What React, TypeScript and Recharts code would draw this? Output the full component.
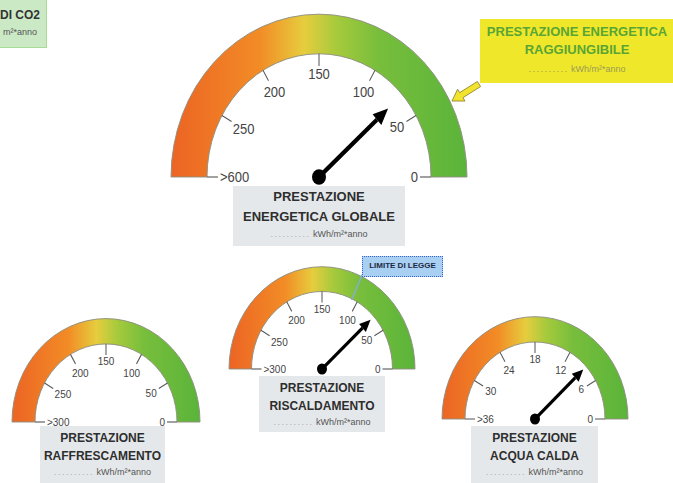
import React from 'react';
import { PieChart, Pie } from 'recharts';

// tick labels of each gauge, right (0°) to left (180°)
const mainTicks = ['0', '50', '100', '150', '200', '250', '>600'];
const heatTicks = ['0', '50', '100', '150', '200', '250', '>300'];
const coolTicks = ['0', '50', '100', '150', '200', '250', '>300'];
const waterTicks = ['0', '6', '12', '18', '24', '30', '>36'];

// needle values (scale runs 0..max, the last tick is the ">" bucket)
const mainValue = 70;
const mainMax = 300;
const heatValue = 71;
const heatMax = 300;
const heatLimit = 108;
const coolMax = 300;
const waterValue = 8.6;
const waterMax = 36;

const FONT = '"Liberation Sans", Arial, Helvetica, sans-serif';
const STRETCH = 1.1;

type GaugeProps = {
  id: string;
  left: number;
  top: number;
  width: number;
  height: number;
  cx: number;
  cy: number;
  outer: number;
  inner: number;
  tickLen: number;
  fontSize: number;
  ticks: string[];
  max: number;
  value?: number;
  limit?: number;
  needleLen?: number;
  needleWidth?: number;
  head?: number;
  headHalf?: number;
  pivot?: number;
};

const rad = (a: number) => (-a * Math.PI) / 180;

function Gauge(g: GaugeProps) {
  const tickData = g.ticks.slice(0, -1).map((t, i) => ({
    from: t,
    to: g.ticks[i + 1],
    value: 1,
    last: i === g.ticks.length - 2,
  }));
  const needleData = g.value != null ? [{ value: g.value }, { value: g.max - g.value }] : [];
  const limitData = g.limit != null ? [{ value: g.limit }, { value: g.max - g.limit }] : [];

  const tickLabel = (p: any) => {
    const d = p.payload ?? p;
    const marks: [number, string][] = [[p.startAngle, d.from]];
    if (d.last) marks.push([p.endAngle, d.to]);
    return (
      <g>
        {marks.map(([a, t], k) => {
          const c = Math.cos(rad(a));
          const s = Math.sin(rad(a));
          const halfW = String(t).length * g.fontSize * 0.28;
          const halfH = g.fontSize * 0.4;
          const rl = p.innerRadius - 2 - halfW * Math.abs(c) - halfH * Math.abs(s);
          return (
            <g key={k}>
              <line
                x1={p.cx + p.outerRadius * c}
                y1={p.cy + p.outerRadius * s}
                x2={p.cx + p.innerRadius * c}
                y2={p.cy + p.innerRadius * s}
                stroke="#555"
                strokeWidth={1}
              />
              <text
                x={p.cx + rl * c}
                y={p.cy + rl * s}
                dy="0.35em"
                textAnchor="middle"
                fontSize={g.fontSize}
                fill="#444"
                fontFamily={FONT}
              >
                {t}
              </text>
            </g>
          );
        })}
      </g>
    );
  };

  const needle = (p: any) => {
    if (p.index !== 0) return <g />;
    const c = Math.cos(rad(p.endAngle));
    const s = Math.sin(rad(p.endAngle));
    const len = g.needleLen ?? 60;
    const head = g.head ?? 10;
    const hw = g.headHalf ?? 5;
    const tipX = p.cx + len * c;
    const tipY = p.cy + len * s;
    const bx = p.cx + (len - head) * c;
    const by = p.cy + (len - head) * s;
    return (
      <g>
        <line x1={p.cx} y1={p.cy} x2={bx} y2={by} stroke="#000" strokeWidth={g.needleWidth ?? 3} />
        <polygon
          points={`${tipX},${tipY} ${bx - hw * s},${by + hw * c} ${bx + hw * s},${by - hw * c}`}
          fill="#000"
        />
        <circle cx={p.cx} cy={p.cy} r={g.pivot ?? 5} fill="#000" />
      </g>
    );
  };

  const limitMark = (p: any) => {
    if (p.index !== 0) return <g />;
    const c = Math.cos(rad(p.endAngle));
    const s = Math.sin(rad(p.endAngle));
    return (
      <line
        x1={p.cx + p.innerRadius * c}
        y1={p.cy + p.innerRadius * s}
        x2={p.cx + p.outerRadius * c}
        y2={p.cy + p.outerRadius * s}
        stroke="#86aec8"
        strokeWidth={1.5}
      />
    );
  };

  return (
    <div
      style={{
        position: 'absolute',
        left: g.left,
        top: g.top,
        width: g.width,
        height: g.height,
        transform: `scaleY(${STRETCH})`,
        transformOrigin: `${g.cx}px ${g.cy}px`,
      }}
    >
      <PieChart width={g.width} height={g.height} margin={{ top: 0, right: 0, bottom: 0, left: 0 }}>
        <defs>
          <linearGradient id={g.id} x1="0" y1="0" x2="1" y2="0">
            <stop offset="0" stopColor="#ec6424" />
            <stop offset="0.3" stopColor="#f28c26" />
            <stop offset="0.45" stopColor="#e6cd3e" />
            <stop offset="0.56" stopColor="#a6ca3c" />
            <stop offset="0.7" stopColor="#78be3c" />
            <stop offset="1" stopColor="#5ab43a" />
          </linearGradient>
        </defs>
        <Pie
          data={[{ value: 1 }]}
          dataKey="value"
          cx={g.cx}
          cy={g.cy}
          startAngle={180}
          endAngle={0}
          innerRadius={g.inner}
          outerRadius={g.outer}
          fill={`url(#${g.id})`}
          stroke="#8f8f80"
          strokeWidth={0.9}
          isAnimationActive={false}
        />
        <Pie
          data={tickData}
          dataKey="value"
          cx={g.cx}
          cy={g.cy}
          startAngle={0}
          endAngle={180}
          innerRadius={g.inner - g.tickLen}
          outerRadius={g.inner}
          fill="none"
          stroke="none"
          label={tickLabel}
          labelLine={false}
          isAnimationActive={false}
        />
        {limitData.length > 0 && (
          <Pie
            data={limitData}
            dataKey="value"
            cx={g.cx}
            cy={g.cy}
            startAngle={0}
            endAngle={180}
            innerRadius={g.inner - 1}
            outerRadius={g.outer + 2}
            fill="none"
            stroke="none"
            label={limitMark}
            labelLine={false}
            isAnimationActive={false}
          />
        )}
        {needleData.length > 0 && (
          <Pie
            data={needleData}
            dataKey="value"
            cx={g.cx}
            cy={g.cy}
            startAngle={0}
            endAngle={180}
            innerRadius={0}
            outerRadius={g.needleLen}
            fill="none"
            stroke="none"
            label={needle}
            labelLine={false}
            isAnimationActive={false}
          />
        )}
      </PieChart>
    </div>
  );
}

function InfoBox(props: {
  left: number;
  top: number;
  width: number;
  height: number;
  lines: string[];
  fontSize: number;
  lineHeight: number;
  pad: number;
}) {
  return (
    <div
      style={{
        position: 'absolute',
        left: props.left,
        top: props.top,
        width: props.width,
        height: props.height,
        background: '#e5e8eb',
        textAlign: 'center',
        fontFamily: FONT,
        color: '#2e2e2e',
        boxSizing: 'border-box',
        paddingTop: props.pad,
      }}
    >
      {props.lines.map((l) => (
        <div key={l} style={{ fontWeight: 'bold', fontSize: props.fontSize, lineHeight: `${props.lineHeight}px` }}>
          {l}
        </div>
      ))}
      <div style={{ fontSize: 9, lineHeight: '14px', color: '#555' }}>
        <span style={{ color: '#aaa', letterSpacing: 1.5 }}>..........</span> kWh/m²*anno
      </div>
    </div>
  );
}

export default function App() {
  // yellow arrow pointing at the main gauge
  const ax1 = 479, ay1 = 84, ax2 = 452, ay2 = 101;
  const dl = Math.hypot(ax2 - ax1, ay2 - ay1);
  const ux = (ax2 - ax1) / dl, uy = (ay2 - ay1) / dl;
  const nx = -uy, ny = ux;
  const hb = 11;
  const bxA = ax2 - ux * hb, byA = ay2 - uy * hb;
  const arrowPts = [
    [ax1 + nx * 3, ay1 + ny * 3],
    [bxA + nx * 3, byA + ny * 3],
    [bxA + nx * 7, byA + ny * 7],
    [ax2, ay2],
    [bxA - nx * 7, byA - ny * 7],
    [bxA - nx * 3, byA - ny * 3],
    [ax1 - nx * 3, ay1 - ny * 3],
  ]
    .map((q) => q.join(','))
    .join(' ');

  return (
    <div
      style={{
        position: 'absolute',
        left: 0,
        top: 0,
        width: 673,
        height: 483,
        overflow: 'hidden',
        background: '#fff',
        fontFamily: FONT,
      }}
    >
      <Gauge
        id="gMain"
        left={160}
        top={0}
        width={320}
        height={190}
        cx={159}
        cy={177}
        outer={148}
        inner={112}
        tickLen={11}
        fontSize={13}
        ticks={mainTicks}
        max={mainMax}
        value={mainValue}
        needleLen={93}
        needleWidth={4}
        head={15}
        headHalf={6.5}
        pivot={7}
      />
      <Gauge
        id="gHeat"
        left={220}
        top={255}
        width={210}
        height={125}
        cx={102}
        cy={114}
        outer={93}
        inner={70.5}
        tickLen={10}
        fontSize={10}
        ticks={heatTicks}
        max={heatMax}
        value={heatValue}
        limit={heatLimit}
        needleLen={66}
        needleWidth={3}
        head={11}
        headHalf={5}
        pivot={5}
      />
      <Gauge
        id="gCool"
        left={0}
        top={305}
        width={215}
        height={125}
        cx={106}
        cy={117}
        outer={94}
        inner={71}
        tickLen={10}
        fontSize={10}
        ticks={coolTicks}
        max={coolMax}
      />
      <Gauge
        id="gWater"
        left={430}
        top={300}
        width={210}
        height={125}
        cx={105}
        cy={119}
        outer={93}
        inner={70}
        tickLen={10}
        fontSize={10}
        ticks={waterTicks}
        max={waterMax}
        value={waterValue}
        needleLen={66}
        needleWidth={3}
        head={11}
        headHalf={5}
        pivot={5}
      />

      <InfoBox left={233} top={186} width={172} height={60} lines={['PRESTAZIONE', 'ENERGETICA GLOBALE']} fontSize={13} lineHeight={20} pad={1} />
      <InfoBox left={259} top={376} width={126} height={56} lines={['PRESTAZIONE', 'RISCALDAMENTO']} fontSize={12} lineHeight={18} pad={3} />
      <InfoBox left={40} top={426} width={125} height={57} lines={['PRESTAZIONE', 'RAFFRESCAMENTO']} fontSize={12} lineHeight={18} pad={3} />
      <InfoBox left={471} top={426} width={127} height={57} lines={['PRESTAZIONE', 'ACQUA CALDA']} fontSize={12} lineHeight={18} pad={3} />

      {/* emissions box, its left part runs off the page */}
      <div
        style={{
          position: 'absolute',
          left: -10,
          top: -1,
          width: 57,
          height: 49,
          boxSizing: 'border-box',
          background: '#cce9c6',
          border: '1px solid #a6dc96',
          textAlign: 'right',
          color: '#333',
        }}
      >
        <div style={{ fontWeight: 'bold', fontSize: 12, lineHeight: '14px', marginTop: 8, paddingRight: 6 }}>DI CO2</div>
        <div style={{ fontSize: 9, lineHeight: '12px', marginTop: 4, paddingRight: 9, color: '#555' }}>m²*anno</div>
      </div>

      {/* reachable performance box */}
      <div
        style={{
          position: 'absolute',
          left: 480,
          top: 19,
          width: 194,
          height: 64,
          boxSizing: 'border-box',
          background: '#efe82a',
          textAlign: 'center',
          paddingTop: 4,
          color: '#5aa535',
        }}
      >
        <div style={{ fontWeight: 'bold', fontSize: 13, lineHeight: '18px' }}>PRESTAZIONE ENERGETICA</div>
        <div style={{ fontWeight: 'bold', fontSize: 13, lineHeight: '18px' }}>RAGGIUNGIBILE</div>
        <div style={{ fontSize: 9, lineHeight: '14px', marginTop: 3, color: '#9a9a55' }}>
          <span style={{ letterSpacing: 1.5 }}>..........</span> kWh/m²*anno
        </div>
      </div>

      {/* legal limit tag */}
      <div
        style={{
          position: 'absolute',
          left: 362,
          top: 256,
          width: 81,
          height: 21,
          boxSizing: 'border-box',
          background: '#a9cff2',
          border: '1.5px dotted #3a64c8',
          textAlign: 'center',
          fontWeight: 'bold',
          fontSize: 8,
          lineHeight: '18px',
          color: '#1e2a44',
        }}
      >
        LIMITE DI LEGGE
      </div>

      <svg width={673} height={483} style={{ position: 'absolute', left: 0, top: 0, pointerEvents: 'none' }}>
        <polygon points={arrowPts} fill="#f2e32e" stroke="#8a7a22" strokeWidth={0.8} />
      </svg>
    </div>
  );
}
